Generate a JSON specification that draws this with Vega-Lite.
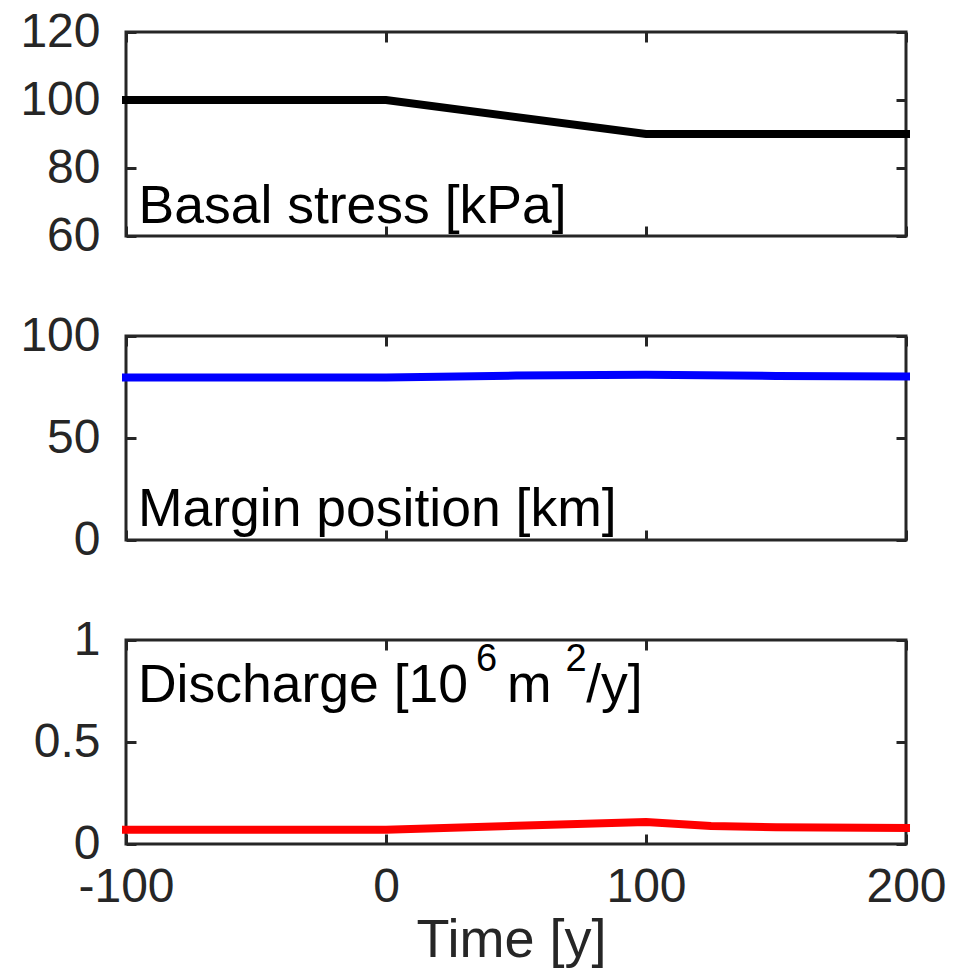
{
  "$schema": "https://vega.github.io/schema/vega-lite/v6.json",
  "padding": {"left": 18, "top": 6, "right": 0, "bottom": 0},
  "background": "white",
  "bounds": "flush",
  "spacing": 100,
  "datasets": {
    "stress": [
      {"time": -100, "value": 100},
      {"time": 0, "value": 100},
      {"time": 100, "value": 90},
      {"time": 200, "value": 90}
    ],
    "margin": [
      {"time": -100, "value": 79.6},
      {"time": 0, "value": 79.6},
      {"time": 50, "value": 80.6},
      {"time": 100, "value": 81.0},
      {"time": 150, "value": 80.4},
      {"time": 200, "value": 80.2}
    ],
    "discharge": [
      {"time": -100, "value": 0.07},
      {"time": 0, "value": 0.07},
      {"time": 100, "value": 0.108},
      {"time": 125, "value": 0.088},
      {"time": 150, "value": 0.082},
      {"time": 200, "value": 0.078}
    ]
  },
  "config": {
    "font": "Liberation Sans",
    "view": {"stroke": "#262626", "strokeWidth": 3},
    "axis": {
      "domain": false,
      "grid": false,
      "labelFont": "Liberation Sans",
      "labelFontSize": 48,
      "labelColor": "#262626",
      "labelExpr": "datum.value + ''",
      "labelFlush": false,
      "tickColor": "#262626",
      "tickWidth": 3,
      "tickSize": -10,
      "titleFont": "Liberation Sans",
      "titleFontSize": 54,
      "titleFontWeight": "normal",
      "titleColor": "#262626"
    },
    "axisLeft": {"labelPadding": 36},
    "axisBottom": {"labelPadding": 29}
  },
  "vconcat": [
    {
      "width": 780,
      "height": 204,
      "data": {"name": "stress"},
      "layer": [
        {
          "mark": {"type": "line", "color": "#000000", "strokeWidth": 8, "strokeCap": "square", "clip": false},
          "encoding": {
            "x": {"field": "time", "type": "quantitative", "scale": {"domain": [-100, 200], "nice": false}, "axis": {"orient": "bottom", "values": [-100, 0, 100, 200], "labels": false, "title": null}},
            "y": {"field": "value", "type": "quantitative", "scale": {"domain": [60, 120], "nice": false, "zero": false}, "axis": {"orient": "left", "values": [60, 80, 100, 120], "title": null}}
          }
        },
        {
          "mark": {"type": "line", "opacity": 0},
          "encoding": {
            "x": {"field": "time", "type": "quantitative", "axis": {"orient": "top", "values": [-100, 0, 100, 200], "labels": false, "title": null}},
            "y": {"field": "value", "type": "quantitative", "axis": {"orient": "right", "values": [60, 80, 100, 120], "labels": false, "title": null}}
          }
        },
        {
          "data": {"values": [{"label": "Basal stress [kPa]"}]},
          "mark": {"type": "text", "align": "left", "baseline": "alphabetic", "fontSize": 53.5, "color": "#000000", "font": "Liberation Sans"},
          "encoding": {
            "x": {"datum": -95.2, "type": "quantitative", "axis": null},
            "y": {"datum": 63.8, "type": "quantitative", "axis": null},
            "text": {"field": "label"}
          }
        }
      ],
      "resolve": {"axis": {"x": "independent", "y": "independent"}}
    },
    {
      "width": 780,
      "height": 204,
      "data": {"name": "margin"},
      "layer": [
        {
          "mark": {"type": "line", "color": "#0000ff", "strokeWidth": 8, "strokeCap": "square", "clip": false},
          "encoding": {
            "x": {"field": "time", "type": "quantitative", "scale": {"domain": [-100, 200], "nice": false}, "axis": {"orient": "bottom", "values": [-100, 0, 100, 200], "labels": false, "title": null}},
            "y": {"field": "value", "type": "quantitative", "scale": {"domain": [0, 100], "nice": false}, "axis": {"orient": "left", "values": [0, 50, 100], "title": null}}
          }
        },
        {
          "mark": {"type": "line", "opacity": 0},
          "encoding": {
            "x": {"field": "time", "type": "quantitative", "axis": {"orient": "top", "values": [-100, 0, 100, 200], "labels": false, "title": null}},
            "y": {"field": "value", "type": "quantitative", "axis": {"orient": "right", "values": [0, 50, 100], "labels": false, "title": null}}
          }
        },
        {
          "data": {"values": [{"label": "Margin position [km]"}]},
          "mark": {"type": "text", "align": "left", "baseline": "alphabetic", "fontSize": 53.5, "color": "#000000", "font": "Liberation Sans"},
          "encoding": {
            "x": {"datum": -95.4, "type": "quantitative", "axis": null},
            "y": {"datum": 6.9, "type": "quantitative", "axis": null},
            "text": {"field": "label"}
          }
        }
      ],
      "resolve": {"axis": {"x": "independent", "y": "independent"}}
    },
    {
      "width": 780,
      "height": 204,
      "data": {"name": "discharge"},
      "layer": [
        {
          "mark": {"type": "line", "color": "#ff0000", "strokeWidth": 8, "strokeCap": "square", "clip": false},
          "encoding": {
            "x": {"field": "time", "type": "quantitative", "scale": {"domain": [-100, 200], "nice": false}, "axis": {"orient": "bottom", "values": [-100, 0, 100, 200], "title": "Time [y]", "titlePadding": 2, "titleX": 385}},
            "y": {"field": "value", "type": "quantitative", "scale": {"domain": [0, 1], "nice": false}, "axis": {"orient": "left", "values": [0, 0.5, 1], "title": null}}
          }
        },
        {
          "mark": {"type": "line", "opacity": 0},
          "encoding": {
            "x": {"field": "time", "type": "quantitative", "axis": {"orient": "top", "values": [-100, 0, 100, 200], "labels": false, "title": null}},
            "y": {"field": "value", "type": "quantitative", "axis": {"orient": "right", "values": [0, 0.5, 1], "labels": false, "title": null}}
          }
        },
        {
          "data": {"values": [
            {"label": "Discharge [10", "px": -95.4, "py": 0.696, "size": 53.5},
            {"label": "6", "px": 34.6, "py": 0.85, "size": 38},
            {"label": "m", "px": 46.5, "py": 0.696, "size": 53.5},
            {"label": "2", "px": 69.0, "py": 0.85, "size": 38},
            {"label": "/y]", "px": 77.0, "py": 0.696, "size": 53.5}
          ]},
          "mark": {"type": "text", "align": "left", "baseline": "alphabetic", "color": "#000000", "font": "Liberation Sans"},
          "encoding": {
            "x": {"field": "px", "type": "quantitative", "axis": null},
            "y": {"field": "py", "type": "quantitative", "axis": null},
            "size": {"field": "size", "type": "quantitative", "scale": null, "legend": null},
            "text": {"field": "label"}
          }
        }
      ],
      "resolve": {"axis": {"x": "independent", "y": "independent"}}
    }
  ]
}
